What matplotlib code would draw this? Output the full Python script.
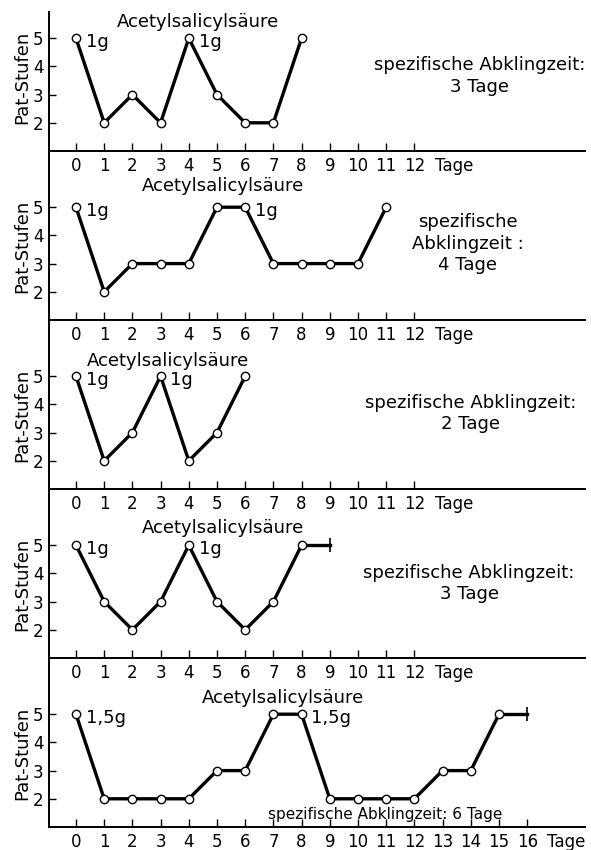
import matplotlib
matplotlib.use("Agg")
import matplotlib.pyplot as plt

plt.rcParams['font.family'] = ['DejaVu Sans']

# Pat-Stufen per day, five patients / courses
days_1 = [0, 1, 2, 3, 4, 5, 6, 7, 8]
vals_1 = [5, 2, 3, 2, 5, 3, 2, 2, 5]
dose_days_1 = [0, 4]

days_2 = [0, 1, 2, 3, 4, 5, 6, 7, 8, 9, 10, 11]
vals_2 = [5, 2, 3, 3, 3, 5, 5, 3, 3, 3, 3, 5]
dose_days_2 = [0, 6]

days_3 = [0, 1, 2, 3, 4, 5, 6]
vals_3 = [5, 2, 3, 5, 2, 3, 5]
dose_days_3 = [0, 3]

days_4 = [0, 1, 2, 3, 4, 5, 6, 7, 8]
vals_4 = [5, 3, 2, 3, 5, 3, 2, 3, 5]
dose_days_4 = [0, 4]
tail_4 = ([8, 9], [5, 5])

days_5 = [0, 1, 2, 3, 4, 5, 6, 7, 8, 9, 10, 11, 12, 13, 14, 15]
vals_5 = [5, 2, 2, 2, 2, 3, 3, 5, 5, 2, 2, 2, 2, 3, 3, 5]
dose_days_5 = [0, 8]
tail_5 = ([15, 16], [5, 5])

dose_labels = ["1g", "1g", "1g", "1g", "1,5g"]
abkling_texts = [
    "spezifische Abklingzeit:\n3 Tage",
    "spezifische\nAbklingzeit :\n4 Tage",
    "spezifische Abklingzeit:\n2 Tage",
    "spezifische Abklingzeit:\n3 Tage",
    "spezifische Abklingzeit: 6 Tage",
]
max_day = [12, 12, 12, 12, 16]

panels = [
    (days_1, vals_1, dose_days_1, None),
    (days_2, vals_2, dose_days_2, None),
    (days_3, vals_3, dose_days_3, None),
    (days_4, vals_4, dose_days_4, tail_4),
    (days_5, vals_5, dose_days_5, tail_5),
]

# layout in pixels (figure 591 x 850)
W, H = 591, 850
bottoms = [151, 320, 489, 658, 827]
tops = [12, 151, 320, 489, 658]
px_per_level = 28.2
title_pos = [(4.33, 5.57), (5.2, 5.75), (3.26, 5.54), (5.2, 5.6), (7.34, 5.57)]
abk_pos = [(14.3, 3.66), (13.9, 3.7), (14.0, 3.68), (13.94, 3.64), (10.96, 1.43)]

fig = plt.figure(figsize=(5.91, 8.5), dpi=100)
fs = 12
fs_txt = 13

for i, (days, vals, ddays, tail) in enumerate(panels):
    b, t = bottoms[i], tops[i]
    ax = fig.add_axes([49 / W, 1 - b / H, 536 / W, (b - t) / H])
    ax.patch.set_visible(False)
    ax.set_xlim(-0.957, 18.05)
    ax.set_ylim(1, 1 + (b - t) / px_per_level)
    for s in ['top', 'right']:
        ax.spines[s].set_visible(False)
    ax.spines['left'].set_linewidth(1.4)
    ax.spines['bottom'].set_linewidth(1.4)

    if tail is not None:
        ax.plot(tail[0], tail[1], color='black', lw=2.4, zorder=2)
        ax.plot(tail[0][-1], tail[1][-1], marker='|', color='black',
                markersize=10, mew=1.2, zorder=3)
    ax.plot(days, vals, color='black', lw=2.4, marker='o', markersize=6,
            markerfacecolor='white', markeredgecolor='black', mew=1.0, zorder=3)

    for d in ddays:
        ax.text(d + 0.35, vals[days.index(d)] + 0.18, dose_labels[i],
                fontsize=fs_txt, ha='left', va='top')

    ax.text(title_pos[i][0], title_pos[i][1], "Acetylsalicylsäure",
            fontsize=fs_txt, ha='center', va='center')
    if i < 4:
        ax.text(abk_pos[i][0], abk_pos[i][1], abkling_texts[i], fontsize=fs_txt,
                ha='center', va='center', multialignment='center', linespacing=1.25)
    else:
        ax.text(abk_pos[i][0], abk_pos[i][1], abkling_texts[i], fontsize=11,
                ha='center', va='center')

    ax.set_xticks(range(0, max_day[i] + 1))
    ax.set_yticks([2, 3, 4, 5])
    ax.tick_params(axis='x', direction='in', length=6, width=1, pad=4, labelsize=fs)
    ax.tick_params(axis='y', direction='in', length=5, width=1, pad=4, labelsize=fs)
    ax.annotate("Tage", xy=(max_day[i] + 1.4, 0), xycoords=('data', 'axes fraction'),
                xytext=(0, -4), textcoords='offset points', fontsize=fs,
                ha='center', va='top', annotation_clip=False)
    ax.text(-1.91, 3.6, "Pat-Stufen", rotation=90, fontsize=fs_txt,
            ha='center', va='center', clip_on=False)

fig.savefig("out.png", dpi=100)
